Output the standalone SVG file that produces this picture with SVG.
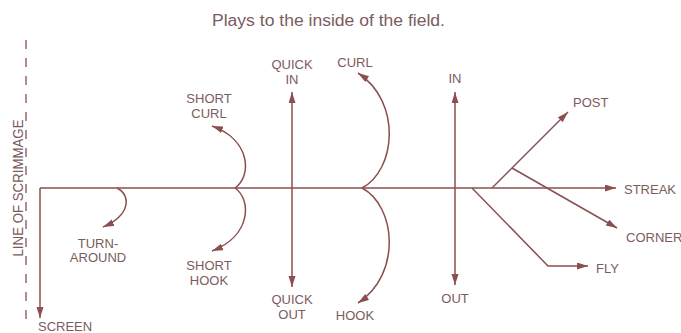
<svg xmlns="http://www.w3.org/2000/svg" width="681" height="333" viewBox="0 0 681 333">
<defs>
<marker id="ah" markerUnits="userSpaceOnUse" markerWidth="12" markerHeight="8" refX="11" refY="3.5" orient="auto-start-reverse">
<path d="M0,0 L11,3.5 L0,7 z" fill="#8b4f4f"/>
</marker>
<style>
.ln{fill:none;stroke:#8b4f4f;stroke-width:1.5}
.t{font-family:"Liberation Sans",Arial,sans-serif;font-size:13px;fill:#7a5c5c}
.c{text-anchor:middle}
.title{font-family:"Liberation Sans",Arial,sans-serif;font-size:16px;fill:#7a5c5c}
</style>
</defs>
<rect width="681" height="333" fill="#ffffff"/>
<text class="title" x="212" y="26" textLength="233" lengthAdjust="spacingAndGlyphs">Plays to the inside of the field.</text>
<g id="scrimmage">
<line x1="26" y1="40" x2="26" y2="324" stroke="#8b4f4f" stroke-width="1.3" stroke-dasharray="9,9"/>
<text class="t c" style="font-size:14px" transform="translate(23,188) rotate(-90)" textLength="137" lengthAdjust="spacingAndGlyphs">LINE OF SCRIMMAGE</text>
</g>
<g id="connectors">
<path class="ln" d="M40,188 L616,188" marker-end="url(#ah)"/>
<path class="ln" d="M40,188 L40,318" marker-end="url(#ah)"/>
<path class="ln" d="M117,188 C131,195 131,215 103,227" marker-end="url(#ah)"/>
<path class="ln" d="M235,188 C252,176 251,140 212,126" marker-end="url(#ah)"/>
<path class="ln" d="M235,188 C252,200 251,236 212,251" marker-end="url(#ah)"/>
<path class="ln" d="M292,92 L292,287" marker-start="url(#ah)" marker-end="url(#ah)"/>
<path class="ln" d="M362,188 C396,170 402,102 358,73" marker-end="url(#ah)"/>
<path class="ln" d="M362,188 C396,206 402,274 358,303" marker-end="url(#ah)"/>
<path class="ln" d="M455,92 L455,285" marker-start="url(#ah)" marker-end="url(#ah)"/>
<path class="ln" d="M492,188 L568,112" marker-end="url(#ah)"/>
<path class="ln" d="M512,168 L617,228" marker-end="url(#ah)"/>
<path class="ln" d="M472,188 L548,266 L588,266" marker-end="url(#ah)"/>
</g>
<g id="screen"><text class="t" x="38" y="331">SCREEN</text></g>
<g id="turnaround"><text class="t c" x="98" y="248">TURN-</text><text class="t c" x="98" y="262">AROUND</text></g>
<g id="short-curl"><text class="t c" x="209" y="103">SHORT</text><text class="t c" x="209" y="118">CURL</text></g>
<g id="short-hook"><text class="t c" x="209" y="270">SHORT</text><text class="t c" x="209" y="285">HOOK</text></g>
<g id="quick-in"><text class="t c" x="292" y="69">QUICK</text><text class="t c" x="292" y="84">IN</text></g>
<g id="quick-out"><text class="t c" x="292" y="304">QUICK</text><text class="t c" x="292" y="319">OUT</text></g>
<g id="curl"><text class="t c" x="355" y="67">CURL</text></g>
<g id="hook"><text class="t c" x="355" y="320">HOOK</text></g>
<g id="in"><text class="t c" x="455" y="83">IN</text></g>
<g id="out"><text class="t c" x="455" y="303">OUT</text></g>
<g id="post"><text class="t" x="573" y="107">POST</text></g>
<g id="streak"><text class="t" x="624" y="194">STREAK</text></g>
<g id="corner"><text class="t" x="626" y="242">CORNER</text></g>
<g id="fly"><text class="t" x="596" y="273">FLY</text></g>
</svg>
